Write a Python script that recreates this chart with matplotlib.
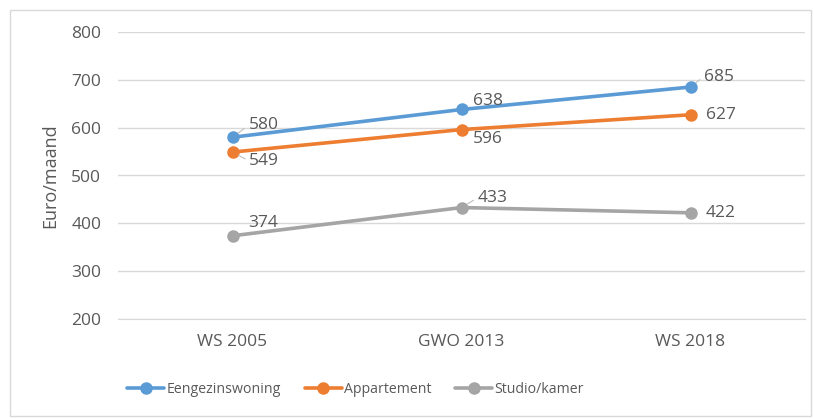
import matplotlib
matplotlib.use("Agg")
import matplotlib.pyplot as plt
from matplotlib.patches import Rectangle

categories = ["WS 2005", "GWO 2013", "WS 2018"]
series_names = ["Eengezinswoning", "Appartement", "Studio/kamer"]
eengezins = [580, 638, 685]
appartement = [549, 596, 627]
studio = [374, 433, 422]
yticks = [200, 300, 400, 500, 600, 700, 800]

colors = ["#5B9BD5", "#ED7D31", "#A5A5A5"]
txt = "#595959"
plt.rcParams['font.family'] = ['Open Sans', 'DejaVu Sans']

fig = plt.figure(figsize=(8.14, 4.19), dpi=100)
fig.patches.append(Rectangle((10/814, 3/419), 801/814, 406/419, transform=fig.transFigure,
                             fill=False, edgecolor="#D9D9D9", linewidth=1))
ax = fig.add_axes([118/814, 1-319/419, (805-118)/814, (319-32)/419])

x = range(len(categories))
data = [eengezins, appartement, studio]
for vals, c, name in zip(data, colors, series_names):
    ax.plot(x, vals, color=c, lw=2.6, marker="o", ms=8, label=name, zorder=3,
            solid_capstyle="round")

# label offsets (points) and whether a leader line is drawn
offsets = [
    [(11.5, 8.5, True), (8.6, 6, False), (9.5, 7.5, True)],
    [(12, -6.5, True), (8, -7, False), (11.5, 0, False)],
    [(11.5, 9.4, False), (11.5, 7, True), (11, 0, False)],
]
for si, vals in enumerate(data):
    for i, v in enumerate(vals):
        dx, dy, lead = offsets[si][i]
        kw = {}
        if lead:
            kw["arrowprops"] = dict(arrowstyle="-", color="#BFBFBF", lw=0.8,
                                    shrinkA=1, shrinkB=5, relpos=(0, 0.5))
        ax.annotate(str(v), (i, v), xytext=(dx, dy), textcoords="offset points",
                    ha="left", va="center", fontsize=12.5, color=txt, zorder=4, **kw)

ax.set_ylim(200, 800)
ax.set_xlim(-0.5, 2.5)
ax.set_yticks(yticks)
ax.set_xticks(list(x))
ax.set_xticklabels(categories)
ax.yaxis.grid(True, color="#D9D9D9", lw=1)
ax.set_axisbelow(True)
for s in ["top", "right", "left"]:
    ax.spines[s].set_visible(False)
ax.spines["bottom"].set_color("#D9D9D9")
ax.tick_params(axis="both", length=0, labelsize=12.5, colors=txt)
ax.tick_params(axis="x", pad=11)
ax.tick_params(axis="y", pad=12)
ax.set_ylabel("Euro/maand", fontsize=13, color=txt, labelpad=9)

ax.legend(loc="center", bbox_to_anchor=(0.346, -0.245), ncol=3, frameon=False,
          fontsize=10.2, labelcolor=txt, handlelength=2.6, handletextpad=0.15,
          columnspacing=1.7)

fig.savefig("out.png", dpi=100)
